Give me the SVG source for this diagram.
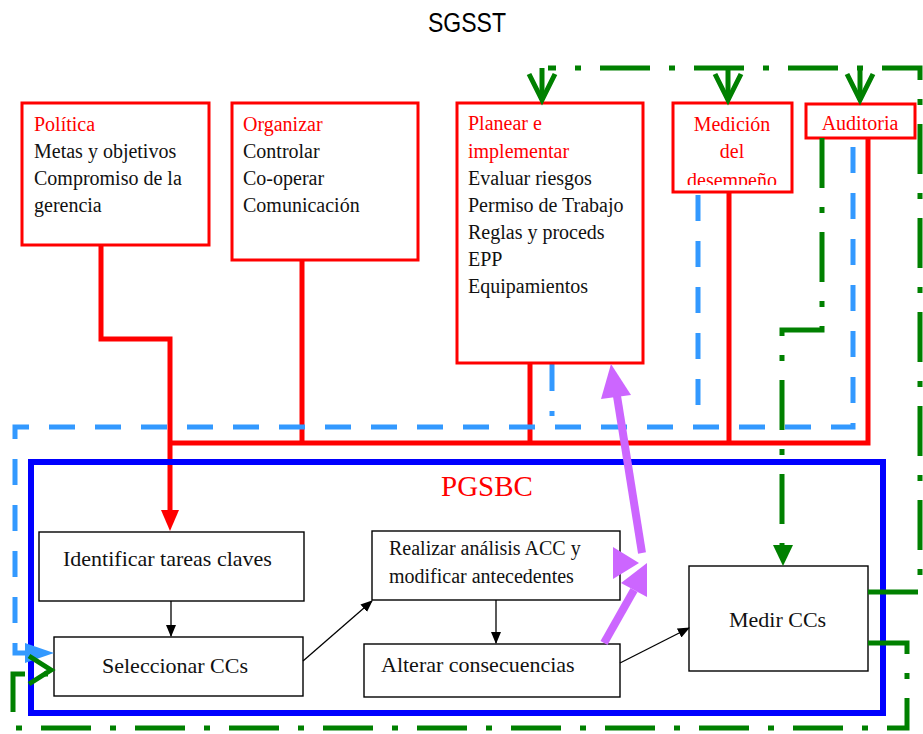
<svg xmlns="http://www.w3.org/2000/svg" width="923" height="734" viewBox="0 0 923 734">
<defs>
<style>
.rbox{fill:#fff;stroke:#f00;stroke-width:3}
.bbox{fill:#fff;stroke:#000;stroke-width:1.4}
.rt{font-family:"Liberation Serif",serif;font-size:20px;fill:#f00}
.bt{font-family:"Liberation Serif",serif;font-size:20px;fill:#111}
.bt22{font-family:"Liberation Serif",serif;font-size:22px;fill:#111}
.red{stroke:#f00;stroke-width:5;fill:none}
.bl{stroke:#3399ff;stroke-width:5;fill:none;stroke-dasharray:26 20}
.bldd{stroke:#3399ff;stroke-width:5;fill:none;stroke-dasharray:28 20 5 20}
.gr{stroke:#008000;stroke-width:5;fill:none;stroke-dasharray:50 19 6 19}
.gs{stroke:#008000;stroke-width:5;fill:none}
.thin{stroke:#000;stroke-width:1.3;fill:none;marker-end:url(#ah)}
.pu{stroke:#cc66ff;stroke-width:8;fill:none}
</style>
<marker id="ah" markerUnits="userSpaceOnUse" markerWidth="12" markerHeight="10" refX="11" refY="5" orient="auto" viewBox="0 0 12 10"><path d="M0,0 L12,5 L0,10 z" fill="#000"/></marker>
<clipPath id="medclip"><rect x="673" y="100" width="119" height="85"/></clipPath>
</defs>
<rect width="923" height="734" fill="#fff"/>
<text x="467" y="32" text-anchor="middle" font-family="'Liberation Sans',Arial,sans-serif" font-size="27" textLength="78" lengthAdjust="spacingAndGlyphs" fill="#000">SGSST</text>

<g id="connectors">
  <!-- red links -->
  <path class="red" d="M101,245 V339 H170 V512"/>
  <polygon points="161,510 179,510 170,531" fill="#f00"/>
  <path class="red" d="M302,260 V443"/>
  <path class="red" d="M530,363 V443"/>
  <path class="red" d="M729,193 V443"/>
  <path class="red" d="M868,138 V443 H170"/>
  <!-- blue dashed feedback -->
  <path class="bl" d="M853,147 V427 H15 V653 H30"/>
  <path class="bl" d="M698,195 V427"/>
  <path class="bldd" d="M552,363 V427"/>
</g>

<g id="pgsbc">
  <rect x="31" y="462" width="852" height="251" fill="none" stroke="#0000ff" stroke-width="6"/>
  <text x="487" y="496" text-anchor="middle" font-family="'Liberation Serif',serif" font-size="29" fill="#f00">PGSBC</text>
</g>

<g id="politica">
  <rect class="rbox" x="22" y="103" width="187" height="142"/>
  <text class="rt" x="34" y="131">Política</text>
  <text class="bt" x="34" y="158">Metas y objetivos</text>
  <text class="bt" x="34" y="185">Compromiso de la</text>
  <text class="bt" x="34" y="212">gerencia</text>
</g>
<g id="organizar">
  <rect class="rbox" x="232" y="103" width="186" height="157"/>
  <text class="rt" x="243" y="131">Organizar</text>
  <text class="bt" x="243" y="158">Controlar</text>
  <text class="bt" x="243" y="185">Co-operar</text>
  <text class="bt" x="243" y="212">Comunicación</text>
</g>
<g id="planear">
  <rect class="rbox" x="457" y="103" width="186" height="260"/>
  <text class="rt" x="468" y="130">Planear e</text>
  <text class="rt" x="468" y="158">implementar</text>
  <text class="bt" x="468" y="185">Evaluar riesgos</text>
  <text class="bt" x="468" y="212">Permiso de Trabajo</text>
  <text class="bt" x="468" y="239">Reglas y proceds</text>
  <text class="bt" x="468" y="266">EPP</text>
  <text class="bt" x="468" y="293">Equipamientos</text>
</g>
<g id="medicion">
  <rect class="rbox" x="673" y="103" width="119" height="89"/>
  <g clip-path="url(#medclip)">
    <text class="rt" x="732" y="131" text-anchor="middle">Medición</text>
    <text class="rt" x="732" y="158" text-anchor="middle">del</text>
    <text class="rt" x="732" y="187" text-anchor="middle">desempeño</text>
  </g>
</g>
<g id="auditoria">
  <rect class="rbox" x="806" y="104" width="109" height="34"/>
  <text class="rt" x="860" y="130" text-anchor="middle">Auditoria</text>
</g>

<g id="identificar">
  <rect class="bbox" x="39" y="532" width="265" height="69"/>
  <text class="bt22" x="63" y="566">Identificar tareas claves</text>
</g>
<g id="seleccionar">
  <rect class="bbox" x="54" y="637" width="249" height="59"/>
  <text class="bt22" x="102" y="673">Seleccionar CCs</text>
</g>
<g id="realizar">
  <rect class="bbox" x="372" y="531" width="248" height="69"/>
  <text class="bt" x="389" y="555">Realizar análisis ACC y</text>
  <text class="bt" x="389" y="583">modificar antecedentes</text>
</g>
<g id="alterar">
  <rect class="bbox" x="364" y="644" width="256" height="53"/>
  <text class="bt22" x="381" y="672">Alterar consecuencias</text>
</g>
<g id="medir">
  <rect class="bbox" x="689" y="566" width="179" height="105"/>
  <text class="bt22" x="729" y="627">Medir CCs</text>
</g>

<g id="connectors2">
  <polygon points="25,643 25,663 54,653" fill="#3399ff"/>
  <!-- thin black arrows -->
  <path class="thin" d="M171,601 V636"/>
  <path class="thin" d="M303,661 L372,601"/>
  <path class="thin" d="M496,600 V643"/>
  <path class="thin" d="M620,663 L689,628"/>
  <!-- green dash-dot -->
  <path class="gr" d="M868,592 H920 V68 H548"/>
  <path class="gs" d="M542,68 V100"/>
  <path class="gs" d="M529,74 L542,100 L555,74"/>
  <path class="gs" d="M728,68 V100"/>
  <path class="gs" d="M715,74 L728,100 L741,74"/>
  <path class="gs" d="M860,68 V100"/>
  <path class="gs" d="M847,74 L860,100 L873,74"/>
  <path class="gr" d="M868,643 H907 V728 H13 V674 H48"/>
  <path class="gs" d="M29,656 L51,670 L29,684"/>
  <path class="gr" d="M822,138 V330 H782 V546"/>
  <polygon points="773,545 793,545 783,566" fill="#008000"/>
  <!-- purple arrows -->
  <path class="pu" d="M642,553 L617,396"/>
  <polygon points="611,364 601,399 631,395" fill="#cc66ff"/>
  <path class="pu" d="M604,643 L634,590" stroke-width="9"/>
  <polygon points="647,563 621,583 647,597" fill="#cc66ff"/>
  <polygon points="613,547 613,579 639,563" fill="#cc66ff"/>
</g>
</svg>
